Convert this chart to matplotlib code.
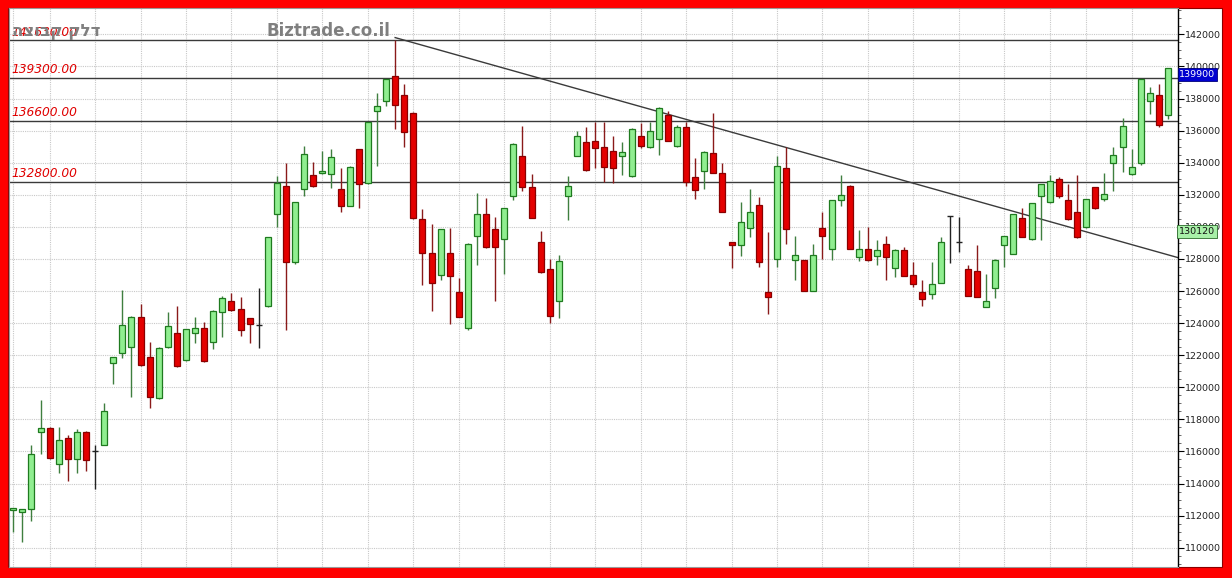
import matplotlib
matplotlib.use("Agg")
import matplotlib.pyplot as plt
from matplotlib.patches import Rectangle
import numpy as np

# Daily OHLC prices (agorot)
opens = [112350, 112200, 112430, 117200, 117440, 115240, 116870, 115560, 117190, 116030,
         116400, 121500, 122140, 122490, 124400, 121870, 119310, 122510, 123380, 121700,
         123380, 123700, 122800, 124680, 125360, 124860, 124300, 123880, 125070, 130800,
         132550, 127830, 132340, 133230, 133340, 133300, 132340, 131320, 134850, 132720,
         137220, 137850, 139400, 138240, 137120, 130470, 128390, 126980, 128370, 125920,
         123680, 129430, 130800, 129850, 129260, 131940, 134400, 132470, 129080, 127370,
         125400, 131940, 134440, 135270, 135350, 134960, 134730, 134390, 133190, 135640,
         134960, 135500, 136980, 135060, 136250, 133120, 133470, 134590, 133340, 129030,
         128840, 129910, 131370, 125960, 127980, 133690, 127930, 127930, 126020, 129960,
         128630, 131660, 132550, 128150, 128630, 128190, 128950, 127440, 128580, 126990,
         125960, 125790, 126520, 130680, 129060, 127360, 127250, 125030, 126210, 128900,
         128310, 130560, 129250, 131940, 131570, 132990, 131680, 130910, 130010, 132470,
         131740, 134000, 134960, 133300, 133960, 137870, 138220, 136950]
highs = [112500, 112430, 116420, 119210, 117540, 117540, 117040, 117420, 117250, 116420,
         119000, 121900, 126070, 124450, 125170, 122800, 122500, 124690, 125070, 123650,
         124360, 124090, 124800, 125710, 125900, 125650, 124350, 126170, 129400, 133190,
         133960, 131550, 135040, 134040, 134710, 134860, 133650, 133800, 134880, 136560,
         138330, 139220, 141630, 138910, 137150, 131100, 130150, 129870, 129930, 126790,
         128970, 132130, 131820, 130600, 131200, 135200, 136260, 133280, 129760, 127980,
         128250, 133170, 135980, 136210, 136510, 136510, 135670, 135270, 136150, 136470,
         136530, 137470, 137240, 136370, 136560, 134300, 134700, 137080, 133960, 129050,
         131530, 132340, 131880, 129660, 134420, 135000, 129450, 127950, 128960, 130930,
         131700, 133240, 132600, 129800, 130010, 129180, 129430, 128600, 128730, 127790,
         126690, 127790, 129350, 130680, 130600, 127620, 128870, 127040, 128000, 129450,
         130800, 131160, 131500, 132700, 133240, 133090, 132670, 133240, 131760, 132500,
         133380, 135000, 136800, 134860, 139250, 138700, 138930, 139900]
lows = [111000, 110340, 111680, 115820, 115510, 114640, 114140, 114640, 114800, 113660,
        116400, 120190, 121850, 119380, 121300, 118690, 119250, 122450, 121250, 121650,
        122740, 121580, 122390, 123120, 124750, 123220, 122780, 122430, 125000, 129970,
        123570, 127670, 131940, 132500, 133300, 132420, 130950, 131300, 131160, 132700,
        133800, 137560, 136080, 134960, 130490, 126380, 124760, 126670, 123930, 124380,
        123570, 127620, 128700, 125360, 127040, 131680, 132260, 130550, 127150, 123990,
        124300, 130430, 134400, 133480, 133650, 132820, 132760, 133240, 133090, 134940,
        134930, 134460, 135330, 134960, 132570, 131710, 132390, 133350, 130900, 127420,
        128200, 129390, 127520, 124550, 127520, 128910, 126660, 125990, 126000, 127980,
        127940, 131330, 128600, 127870, 127900, 127620, 126660, 126860, 126940, 126230,
        125090, 125490, 126500, 127770, 128450, 125690, 125630, 125000, 125550, 127500,
        128280, 129350, 129200, 129180, 131500, 131810, 130450, 129330, 129950, 131100,
        131630, 132260, 133440, 133250, 133880, 137030, 136250, 136700]
closes = [112450, 112430, 115840, 117440, 115610, 116700, 115560, 117190, 115450, 116030,
          118500, 121870, 123860, 124400, 121370, 119400, 122470, 123800, 121330, 123610,
          123700, 121620, 124780, 125590, 124840, 123590, 123930, 123880, 129390, 132750,
          127790, 131530, 134520, 132550, 133470, 134340, 131320, 133750, 132650, 136540,
          137520, 139200, 137620, 135920, 130540, 128350, 126480, 129850, 126940, 124400,
          128950, 130800, 128730, 128770, 131160, 135190, 132500, 130570, 127170, 124440,
          127890, 132550, 135670, 133550, 134940, 133750, 133690, 134640, 136130, 135040,
          135980, 137390, 135350, 136250, 132780, 132330, 134640, 133390, 130930, 128840,
          130320, 130910, 127790, 125610, 133800, 129850, 128270, 126020, 128270, 129450,
          131660, 131980, 128630, 128630, 127930, 128560, 128140, 128570, 126960, 126470,
          125490, 126470, 129080, 130680, 129060, 125710, 125650, 125360, 127930, 129420,
          130780, 129390, 131470, 132660, 132860, 131940, 130470, 129350, 131740, 131160,
          132050, 134480, 136320, 133750, 139200, 138330, 136330, 139900]

# Support / resistance levels
levels = [141630, 139300, 136600, 132800]
# First trading day of each week (vertical grid)
week_starts = [0, 4, 9, 14, 19, 24, 29, 34, 39, 44, 49, 54, 59, 64, 69, 74, 79, 84,
               89, 94, 99, 104, 109, 114, 118, 123]
# Falling trendline anchors (bar index, price)
trend_x = [42, 128]
trend_y = [141800, 128100]
last_price = 139900
marker_price = 130120
y_ticks = list(range(110000, 142001, 2000))
instrument = "דלק קבוצה"
watermark = "Biztrade.co.il"

W, H = 1232, 578
fig = plt.figure(figsize=(W / 100, H / 100), dpi=100)
fig.patch.set_facecolor("#ff0000")
fig.patches.append(Rectangle((8 / W, 11 / H), 1214 / W, 559 / H, transform=fig.transFigure,
                             facecolor="white", edgecolor="#8a0000", linewidth=0.8, zorder=-5))

ax = fig.add_axes([9 / W, 11 / H, 1168.7 / W, 559 / H])
ax.set_zorder(2)
ax.set_facecolor("white")
ax.set_xlim(-0.47, 128.07)
ax.set_ylim(108797, 143645)

# grid
for ws in week_starts:
    ax.axvline(ws, color="#c8c8c8", lw=0.8, ls=(0, (1, 1)), zorder=1)
for t in y_ticks:
    ax.axhline(t, color="#c8c8c8", lw=0.8, ls=(0, (1, 1)), zorder=1)

# horizontal levels with labels
for v in levels:
    ax.axhline(v, color="#3a3a3a", lw=1.0, zorder=2)
    ax.annotate(f"{v:.2f}", xy=(0, v), xycoords=("axes fraction", "data"),
                xytext=(1.5, 1.2), textcoords="offset points", ha="left", va="bottom",
                color="#e00000", fontstyle="italic", fontsize=8.8, zorder=6)

# trendline from its anchor to the right edge
slope = (trend_y[1] - trend_y[0]) / (trend_x[1] - trend_x[0])
x_end = ax.get_xlim()[1]
ax.plot([trend_x[0], x_end], [trend_y[0], trend_y[0] + slope * (x_end - trend_x[0])],
        color="#3a3a3a", lw=1.0, zorder=2)

# candles
o = np.array(opens, float); h = np.array(highs, float)
l = np.array(lows, float); c = np.array(closes, float)
x = np.arange(len(o))
up = c > o
down = c < o
flat = c == o
bw = 0.66
min_h = 110

ax.vlines(x[up], l[up], h[up], color="#3f7f3f", lw=1.0, zorder=3)
ax.vlines(x[down], l[down], h[down], color="#8a1a1a", lw=1.0, zorder=3)
ax.vlines(x[flat], l[flat], h[flat], color="#222222", lw=1.0, zorder=3)

bottom = np.minimum(o, c)
height = np.maximum(np.abs(c - o), min_h)
ax.bar(x[up], height[up], bottom=bottom[up], width=bw, color="#90ee90",
       edgecolor="#1f7a1f", linewidth=0.9, zorder=4)
ax.bar(x[down], height[down], bottom=bottom[down], width=bw, color="#e40000",
       edgecolor="#8a0000", linewidth=0.9, zorder=4)
ax.hlines(c[flat], x[flat] - 0.32, x[flat] + 0.32, color="#222222", lw=1.0, zorder=4)

# axes styling
for side in ["left", "top", "bottom"]:
    ax.spines[side].set_color("#9a9a9a")
    ax.spines[side].set_linewidth(0.8)
ax.spines["right"].set_color("#000000")
ax.spines["right"].set_linewidth(1.0)
ax.set_xticks([])
ax.yaxis.tick_right()
ax.set_yticks(y_ticks)
ax.set_yticks(np.arange(109000, 143501, 500), minor=True)
ax.yaxis.set_major_formatter(matplotlib.ticker.FuncFormatter(lambda v, p: f"{int(v)}"))
ax.tick_params(axis="y", which="major", direction="out", length=4, width=0.8,
               labelsize=6.8, pad=1.5, colors="#000000", labelcolor="#222222")
ax.tick_params(axis="y", which="minor", direction="out", length=2, width=0.6, colors="#555555")

# value tags on the price axis
ax.annotate(f"{last_price}", xy=(1, last_price), xycoords=("axes fraction", "data"),
            xytext=(1.2, -4.6), textcoords="offset points", ha="left", va="center",
            color="white", fontsize=6.8, zorder=10, annotation_clip=False,
            bbox=dict(boxstyle="square,pad=0.18", facecolor="#0000d0", edgecolor="#00007a", lw=0.6))
ax.annotate(f"{marker_price}", xy=(1, marker_price), xycoords=("axes fraction", "data"),
            xytext=(1.2, -4.6), textcoords="offset points", ha="left", va="center",
            color="#111111", fontsize=6.8, zorder=10, annotation_clip=False,
            bbox=dict(boxstyle="square,pad=0.2", facecolor="#a8f0a8", edgecolor="#2a6a2a", lw=0.6))

# header texts
fig.text(12 / W, 1 - 31 / H, instrument[::-1], ha="left", va="center", color="#808080",
         fontsize=12, fontweight="bold", zorder=5)
fig.text(328 / W, 1 - 31.5 / H, watermark, ha="center", va="center", color="#7f7f7f",
         fontsize=12, fontweight="bold", zorder=5)

fig.savefig("out.png", dpi=100, facecolor=fig.get_facecolor())
